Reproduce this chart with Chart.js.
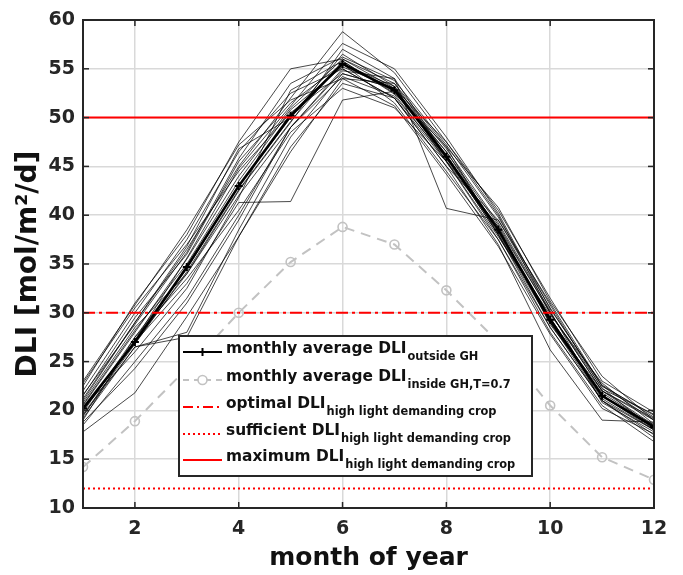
<!DOCTYPE html>
<html><head><meta charset="utf-8">
<script src="https://cdn.jsdelivr.net/npm/chart.js@4/dist/chart.umd.min.js"></script>
<style>html,body{margin:0;padding:0;background:#fff}#wrap{width:683px;height:575px;position:relative}</style>
</head><body><div id="wrap"><canvas id="c" width="683" height="575"></canvas></div>
<script>
const months = [1,2,3,4,5,6,7,8,9,10,11,12];
const xTicks = [2,4,6,8,10,12];
const yTicks = [10,15,20,25,30,35,40,45,50,55,60];
const avgOutside = [20.2,27.0,34.7,43.0,50.2,55.5,52.8,46.0,38.5,29.3,21.5,18.3];
const avgInside  = [14.2,18.9,24.3,30.0,35.2,38.8,37.0,32.3,27.0,20.5,15.2,12.9];
const optimalDLI = 30;
const sufficientDLI = 12;
const maximumDLI = 50;
const year01 = [20.5,28.0,35.5,44.0,51.0,56.0,53.0,46.5,38.5,29.5,21.5,18.5];
const year02 = [22.0,30.0,37.5,46.5,52.5,55.0,52.0,45.0,39.5,30.5,22.5,19.5];
const year03 = [19.5,26.5,27.5,37.8,46.5,54.0,53.5,47.0,38.0,28.5,21.0,17.5];
const year04 = [18.5,25.0,31.5,40.0,49.0,54.8,54.0,40.7,39.5,31.0,22.5,19.0];
const year05 = [21.0,29.0,36.5,45.0,52.0,58.8,54.6,47.5,40.0,30.0,22.0,19.0];
const year06 = [22.5,31.0,38.0,47.5,55.0,56.0,53.5,46.0,38.0,29.0,21.5,18.0];
const year07 = [20.0,27.0,33.0,41.3,41.4,51.8,52.7,46.5,39.0,30.0,22.0,18.5];
const year08 = [19.0,27.5,34.5,43.0,50.0,55.5,53.2,45.5,37.8,29.8,22.8,18.6];
const year09 = [20.0,27.0,34.0,42.0,49.0,55.0,52.0,45.0,37.0,26.2,19.0,18.8];
const year10 = [19.2,26.5,28.0,38.5,48.0,54.5,53.0,46.0,38.5,29.0,21.0,17.2];
const year11 = [17.8,21.8,29.6,37.8,47.0,53.5,52.0,45.5,37.5,28.0,20.5,16.8];
const year12 = [21.5,29.5,36.0,45.5,51.5,55.5,51.5,44.5,37.5,28.5,21.0,18.0];
const year13 = [22.8,30.5,37.0,44.5,50.5,54.5,53.0,47.5,40.5,31.5,23.0,19.8];
const year14 = [20.8,28.5,34.0,42.5,49.5,57.0,54.0,46.0,38.0,29.5,21.5,18.2];
const year15 = [19.8,27.5,33.5,40.5,48.5,53.0,51.0,45.5,38.5,29.0,22.0,19.2];
const year16 = [21.2,29.0,36.8,46.8,50.0,56.5,53.2,46.8,39.2,30.2,20.8,17.8];
const year17 = [20.2,26.0,32.5,41.8,52.8,55.8,52.5,47.0,40.8,31.2,23.5,19.0];
const year18 = [18.8,24.3,31.0,39.5,49.0,54.2,52.2,45.8,38.8,30.0,22.3,18.0];
const year19 = [20.6,28.2,35.0,43.5,50.8,55.2,53.0,46.2,38.2,29.2,21.2,18.0];
const year20 = [19.6,26.8,34.2,42.6,49.6,55.8,52.4,45.6,38.8,28.8,21.8,18.4];
const year21 = [21.6,28.8,36.2,45.8,53.5,56.2,53.8,47.2,39.8,30.8,22.2,19.6];
const year22 = [23.0,30.8,38.5,47.2,51.8,54.0,51.2,44.2,36.8,27.8,20.2,17.6];
const year23 = [19.4,27.2,35.6,44.8,51.2,57.6,55.0,48.0,40.2,30.4,22.6,19.3];
const yearSeries = [year01,year02,year03,year04,year05,year06,year07,year08,year09,year10,year11,year12,year13,year14,year15,year16,year17,year18,year19,year20,year21,year22,year23];
const legendMain = ['monthly average DLI','monthly average DLI','optimal DLI','sufficient DLI','maximum DLI'];
const legendSub  = ['outside GH','inside GH,T=0.7','high light demanding crop','high light demanding crop','high light demanding crop'];
const xTitle = 'month of year';
const yTitle = 'DLI [mol/m\u00b2/d]';

const FONT = '"DejaVu Sans", Verdana, sans-serif';
const RED = '#ff0000';
const GRAY = '#c2c2c2';
const pts = arr => months.map((m,i)=>({x:m,y:arr[i]}));
const hline = v => [{x:months[0],y:v},{x:months[months.length-1],y:v}];

const datasets = [];
datasets.push({label: legendMain[4]+' '+legendSub[4], data: hline(maximumDLI), borderColor: RED, borderWidth: 2, pointRadius: 0, order: 0});
datasets.push({label: legendMain[2]+' '+legendSub[2], data: hline(optimalDLI), borderColor: RED, borderWidth: 2, borderDash: [12,4,3,4], pointRadius: 0, order: 0});
datasets.push({label: legendMain[3]+' '+legendSub[3], data: hline(sufficientDLI), borderColor: RED, borderWidth: 2, borderDash: [2,3], pointRadius: 0, order: 0});
datasets.push({label: legendMain[0]+' '+legendSub[0], data: pts(avgOutside), borderColor: '#000', borderWidth: 2.6, pointStyle: 'cross', pointRadius: 4, pointBorderWidth: 2, pointBorderColor:'#000', order: 1});
datasets.push({label: legendMain[1]+' '+legendSub[1], data: pts(avgInside), borderColor: GRAY, borderWidth: 2, borderDash: [10,7], pointStyle: 'circle', pointRadius: 4.5, pointBorderWidth: 1.6, pointBorderColor: GRAY, pointBackgroundColor: 'rgba(255,255,255,0)', order: 2});
yearSeries.forEach((s,i)=>datasets.push({label:'year '+(i+1), data: pts(s), borderColor: 'rgba(0,0,0,0.85)', borderWidth: 0.85, pointRadius: 0, order: 3}));

function seg(ctx,x1,y1,x2,y2){ctx.beginPath();ctx.moveTo(x1,y1);ctx.lineTo(x2,y2);ctx.stroke();}

const framePlugin = {
  id: 'frame',
  afterDraw(chart){
    const {ctx, chartArea:a, scales:{x,y}} = chart;
    ctx.save();
    ctx.strokeStyle = '#262626'; ctx.lineWidth = 2; ctx.setLineDash([]);
    ctx.strokeRect(a.left, a.top, a.right-a.left, a.bottom-a.top);
    ctx.lineWidth = 1.5;
    xTicks.forEach(v=>{const p=x.getPixelForValue(v); seg(ctx,p,a.bottom,p,a.bottom-6); seg(ctx,p,a.top,p,a.top+6);});
    yTicks.forEach(v=>{const p=y.getPixelForValue(v); seg(ctx,a.left,p,a.left+6,p); seg(ctx,a.right,p,a.right-6,p);});
    // legend
    const bx = a.left + 96, by = a.top + 316, bw = 353, bh = 140;
    ctx.fillStyle = '#fff'; ctx.fillRect(bx,by,bw,bh);
    ctx.strokeStyle = '#262626'; ctx.lineWidth = 2; ctx.strokeRect(bx,by,bw,bh);
    const rows = [13,41,68,95,121];
    const sx1 = bx+4, sx2 = bx+43, tx = bx+47;
    rows.forEach((ry,i)=>{
      const ly = by+ry+3, cy = by+ry;
      ctx.save();
      if(i===0){ctx.strokeStyle='#000';ctx.lineWidth=2.2;seg(ctx,sx1,ly,sx2,ly);ctx.lineWidth=2;seg(ctx,(sx1+sx2)/2,ly-4,(sx1+sx2)/2,ly+4);}
      if(i===1){ctx.strokeStyle=GRAY;ctx.lineWidth=2;ctx.setLineDash([6,5]);seg(ctx,sx1,ly,sx2,ly);ctx.setLineDash([]);ctx.fillStyle='#fff';ctx.beginPath();ctx.arc((sx1+sx2)/2,ly,4.5,0,Math.PI*2);ctx.fill();ctx.lineWidth=1.6;ctx.stroke();}
      if(i===2){ctx.strokeStyle=RED;ctx.lineWidth=2;ctx.setLineDash([10,4,2,4]);seg(ctx,sx1,ly,sx2,ly);}
      if(i===3){ctx.strokeStyle=RED;ctx.lineWidth=2;ctx.setLineDash([2,3]);seg(ctx,sx1,ly,sx2,ly);}
      if(i===4){ctx.strokeStyle=RED;ctx.lineWidth=2;seg(ctx,sx1,ly,sx2,ly);}
      ctx.restore();
      ctx.fillStyle = '#111'; ctx.textBaseline = 'middle'; ctx.textAlign = 'left';
      ctx.font = 'bold 15.4px '+FONT;
      ctx.fillText(legendMain[i], tx, cy);
      const w = ctx.measureText(legendMain[i]).width;
      ctx.font = 'bold 11.4px '+FONT;
      ctx.fillText(legendSub[i], tx+w+1, cy+8.5);
    });
    ctx.restore();
  }
};

new Chart(document.getElementById('c'), {
  type: 'line',
  data: {datasets},
  options: {
    responsive: false, animation: false,
    layout: {padding: {left: 12, top: 20, right: 29, bottom: 2}},
    plugins: {legend: {display: false}, tooltip: {enabled: false}},
    elements: {line: {tension: 0, fill: false}},
    scales: {
      x: {
        type: 'linear', min: 1, max: 12,
        afterBuildTicks: s => { s.ticks = xTicks.map(v=>({value:v})); },
        afterFit: s => { s.height = 65; },
        grid: {color: '#d9d9d9', lineWidth: 1.5, drawTicks: false},
        border: {display: false},
        ticks: {padding: 10, color: '#262626', font: {family: FONT, size: 19, weight: 'bold'}},
        title: {display: true, text: xTitle, color: '#111', font: {family: FONT, size: 25, weight: 'bold'}, padding: {top: 0, bottom: 0}}
      },
      y: {
        type: 'linear', min: 10, max: 60,
        afterBuildTicks: s => { s.ticks = yTicks.map(v=>({value:v})); },
        afterFit: s => { s.width = 71; },
        grid: {color: '#d9d9d9', lineWidth: 1.5, drawTicks: false},
        border: {display: false},
        ticks: {padding: 8, color: '#262626', font: {family: FONT, size: 19, weight: 'bold'}},
        title: {display: true, text: yTitle, color: '#111', font: {family: FONT, size: 28, weight: 'bold'}, padding: {top: 0, bottom: 0}}
      }
    }
  },
  plugins: [framePlugin]
});
</script>
</body></html>
